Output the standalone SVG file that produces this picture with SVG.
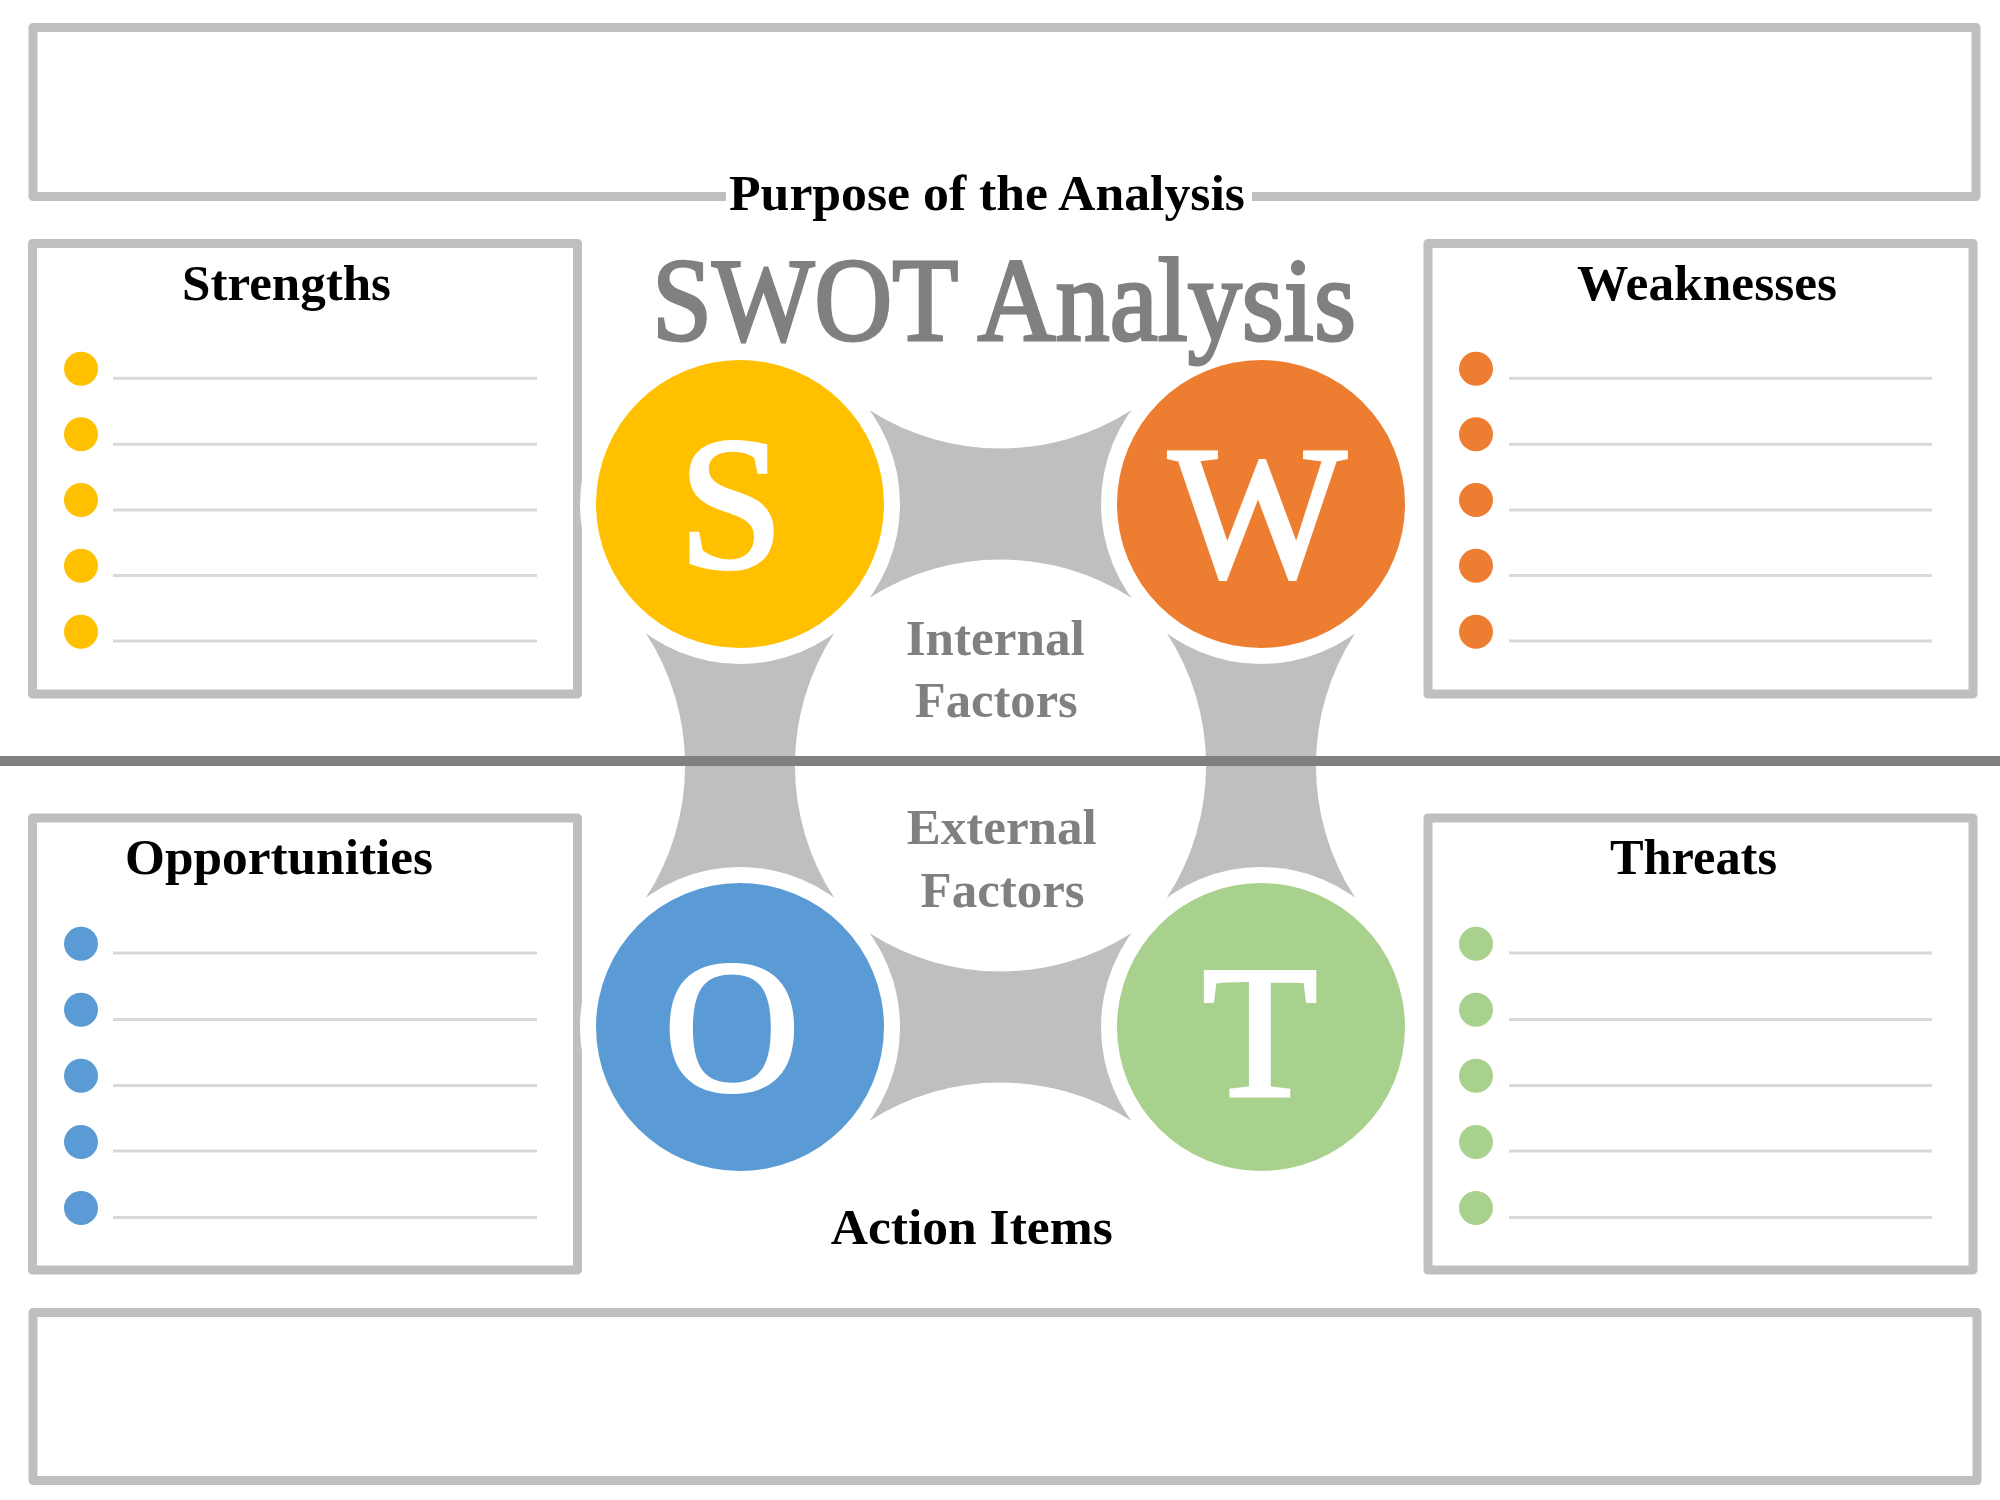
<svg xmlns="http://www.w3.org/2000/svg" width="2000" height="1500" viewBox="0 0 2000 1500">
<defs>
<style>
.frame{fill:none;stroke:#BFBFBF;stroke-width:9;stroke-linejoin:round}
.rule{stroke:#D9D9D9;stroke-width:3}
.hd{font-family:"Liberation Serif","Times New Roman",serif;font-weight:bold;font-size:51px;fill:#000}
.gr{font-family:"Liberation Serif","Times New Roman",serif;font-weight:bold;font-size:51px;fill:#808080}
.big{font-family:"Liberation Serif","Times New Roman",serif;font-size:188px;fill:#FFFFFF;stroke:#FFFFFF;stroke-width:4;text-anchor:middle}
.conn{fill:#BFBFBF}
.ring{fill:#FFFFFF}
.sD{fill:#FFC000}.wD{fill:#ED7D31}.oD{fill:#5B9BD5}.tD{fill:#A9D18E}
</style>
</defs>
<rect width="2000" height="1500" fill="#FFFFFF"/>

<g id="purpose">
<path class="frame" d="M726,196.5 H33 V27.5 H1976 V196.5 H1252"/>
<text class="hd" x="729" y="210" textLength="516" lengthAdjust="spacingAndGlyphs">Purpose of the Analysis</text>
</g>

<g id="strengths">
<rect class="frame" x="32.5" y="243.5" width="545" height="450.5"/>
<text class="hd" x="182" y="299.5" textLength="209" lengthAdjust="spacingAndGlyphs">Strengths</text>
<g class="sD">
<circle cx="81" cy="368.7" r="17"/><circle cx="81" cy="434.3" r="17"/><circle cx="81" cy="500" r="17"/><circle cx="81" cy="565.7" r="17"/><circle cx="81" cy="631.7" r="17"/>
</g>
<g class="rule">
<line x1="113" y1="378.3" x2="537" y2="378.3"/><line x1="113" y1="444.3" x2="537" y2="444.3"/><line x1="113" y1="510" x2="537" y2="510"/><line x1="113" y1="575.5" x2="537" y2="575.5"/><line x1="113" y1="641" x2="537" y2="641"/>
</g>
</g>

<g id="weaknesses">
<rect class="frame" x="1428" y="243.5" width="545" height="450.5"/>
<text class="hd" x="1577" y="300" textLength="260" lengthAdjust="spacingAndGlyphs">Weaknesses</text>
<g class="wD">
<circle cx="1476" cy="368.7" r="17"/><circle cx="1476" cy="434.3" r="17"/><circle cx="1476" cy="500" r="17"/><circle cx="1476" cy="565.7" r="17"/><circle cx="1476" cy="631.7" r="17"/>
</g>
<g class="rule">
<line x1="1509" y1="378.3" x2="1932" y2="378.3"/><line x1="1509" y1="444.3" x2="1932" y2="444.3"/><line x1="1509" y1="510" x2="1932" y2="510"/><line x1="1509" y1="575.5" x2="1932" y2="575.5"/><line x1="1509" y1="641" x2="1932" y2="641"/>
</g>
</g>

<g id="opportunities">
<rect class="frame" x="32.5" y="818" width="545" height="452"/>
<text class="hd" x="125" y="873.5" textLength="308" lengthAdjust="spacingAndGlyphs">Opportunities</text>
<g class="oD">
<circle cx="81" cy="943.8" r="17"/><circle cx="81" cy="1009.8" r="17"/><circle cx="81" cy="1075.8" r="17"/><circle cx="81" cy="1142" r="17"/><circle cx="81" cy="1208" r="17"/>
</g>
<g class="rule">
<line x1="113" y1="953" x2="537" y2="953"/><line x1="113" y1="1019.5" x2="537" y2="1019.5"/><line x1="113" y1="1085.5" x2="537" y2="1085.5"/><line x1="113" y1="1151" x2="537" y2="1151"/><line x1="113" y1="1217.5" x2="537" y2="1217.5"/>
</g>
</g>

<g id="threats">
<rect class="frame" x="1428" y="818" width="545" height="452"/>
<text class="hd" x="1610" y="873.7" textLength="167" lengthAdjust="spacingAndGlyphs">Threats</text>
<g class="tD">
<circle cx="1476" cy="943.8" r="17"/><circle cx="1476" cy="1009.8" r="17"/><circle cx="1476" cy="1075.8" r="17"/><circle cx="1476" cy="1142" r="17"/><circle cx="1476" cy="1208" r="17"/>
</g>
<g class="rule">
<line x1="1509" y1="953" x2="1932" y2="953"/><line x1="1509" y1="1019.5" x2="1932" y2="1019.5"/><line x1="1509" y1="1085.5" x2="1932" y2="1085.5"/><line x1="1509" y1="1151" x2="1932" y2="1151"/><line x1="1509" y1="1217.5" x2="1932" y2="1217.5"/>
</g>
</g>

<g id="connectors">
<path class="conn" d="M869.7,410.2 A243,243 0 0 0 1131.3,410.2 L1261,504 L1131.3,597.8 A243,243 0 0 0 869.7,597.8 L740,504 Z"/>
<path class="conn" d="M869.7,933.2 A243,243 0 0 0 1131.3,933.2 L1261,1027 L1131.3,1120.8 A243,243 0 0 0 869.7,1120.8 L740,1027 Z"/>
<path class="conn" d="M646.2,633.7 L740,504 L833.8,633.7 A243,243 0 0 0 833.8,897.3 L740,1027 L646.2,897.3 A243,243 0 0 0 646.2,633.7 Z"/>
<path class="conn" d="M1167.2,633.7 L1261,504 L1354.8,633.7 A243,243 0 0 0 1354.8,897.3 L1261,1027 L1167.2,897.3 A243,243 0 0 0 1167.2,633.7 Z"/>
</g>

<g id="node-S">
<circle class="ring" cx="740" cy="504" r="160"/>
<circle class="sD" cx="740" cy="504" r="144"/>
<text class="big" x="731" y="567">S</text>
</g>
<g id="node-W">
<circle class="ring" cx="1261" cy="504" r="160"/>
<circle class="wD" cx="1261" cy="504" r="144"/>
<text class="big" x="1257.5" y="576">W</text>
</g>
<g id="node-O">
<circle class="ring" cx="740" cy="1027" r="160"/>
<circle class="oD" cx="740" cy="1027" r="144"/>
<text class="big" x="732" y="1089.5">O</text>
</g>
<g id="node-T">
<circle class="ring" cx="1261" cy="1027" r="160"/>
<circle class="tD" cx="1261" cy="1027" r="144"/>
<text class="big" x="1260" y="1095.5">T</text>
</g>

<g id="title">
<text x="652" y="340" font-family="'Liberation Serif','Times New Roman',serif" font-size="118" fill="#808080" stroke="#808080" stroke-width="3" textLength="704" lengthAdjust="spacingAndGlyphs">SWOT Analysis</text>
</g>

<g id="internal">
<text class="gr" x="905.7" y="655" textLength="179" lengthAdjust="spacingAndGlyphs">Internal</text>
<text class="gr" x="914.8" y="717.3" textLength="163" lengthAdjust="spacingAndGlyphs">Factors</text>
</g>
<g id="external">
<text class="gr" x="906.7" y="844.3" textLength="190" lengthAdjust="spacingAndGlyphs">External</text>
<text class="gr" x="920.6" y="906.7" textLength="164" lengthAdjust="spacingAndGlyphs">Factors</text>
</g>

<g id="divider">
<line x1="0" y1="761" x2="2000" y2="761" stroke="#808080" stroke-width="10"/>
</g>

<g id="action-items">
<text class="hd" x="830.7" y="1244.3" textLength="282" lengthAdjust="spacingAndGlyphs">Action Items</text>
<rect class="frame" x="33" y="1312.5" width="1944" height="168"/>
</g>
</svg>
